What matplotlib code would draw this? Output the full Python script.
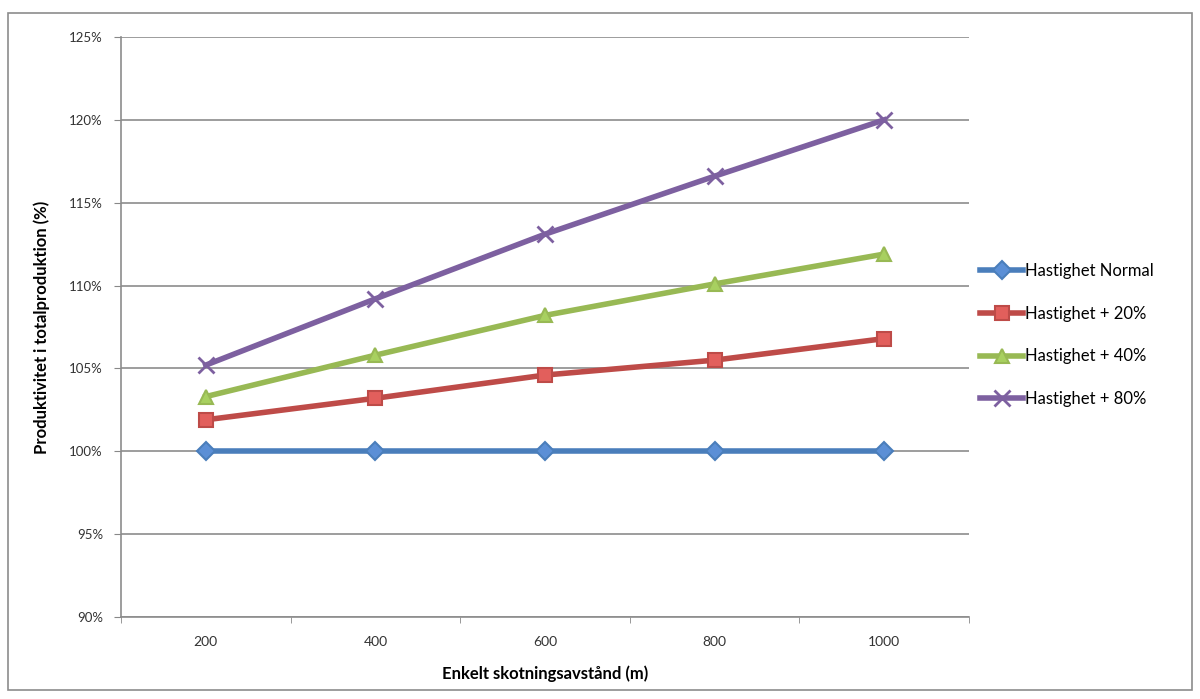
import matplotlib.pyplot as plt
from matplotlib.patches import Rectangle
from matplotlib.ticker import FuncFormatter

plt.rcParams['font.family'] = ['Lato', 'DejaVu Sans']

distances = ['200', '400', '600', '800', '1000']
normal = [100.0, 100.0, 100.0, 100.0, 100.0]
plus20 = [101.9, 103.2, 104.6, 105.5, 106.8]
plus40 = [103.3, 105.8, 108.2, 110.1, 111.9]
plus80 = [105.2, 109.2, 113.1, 116.6, 120.0]

series = [
    ('Hastighet Normal', normal, '#4a7ebb', 'D', '#5b8fd6', 9),
    ('Hastighet + 20%', plus20, '#be4b48', 's', '#e25f5c', 10),
    ('Hastighet + 40%', plus40, '#98b954', '^', '#a8d060', 10),
    ('Hastighet + 80%', plus80, '#7d60a0', 'x', '#6a5090', 11),
]

fig = plt.figure(figsize=(12, 6.99), dpi=100)
ax = fig.add_axes([121 / 1200, 1 - 617 / 699, (969 - 121) / 1200, (617 - 37) / 699])

x = list(range(len(distances)))
for label, vals, col, mk, fc, ms in series:
    ax.plot(x, vals, color=col, lw=4, marker=mk, markersize=ms,
            markerfacecolor=fc, markeredgecolor=col, markeredgewidth=1.5 if mk != 'x' else 2,
            label=label, zorder=3)

ax.set_xlim(-0.5, 4.5)
ax.set_ylim(90, 125)
ax.set_yticks([90, 95, 100, 105, 110, 115, 120, 125])
ax.yaxis.set_major_formatter(FuncFormatter(lambda v, p: f'{v:.0f}%'))
ax.set_xticks(x)
ax.set_xticklabels(distances)
ax.set_xticks([-0.5, 0.5, 1.5, 2.5, 3.5, 4.5], minor=True)
ax.tick_params(axis='x', which='major', length=0, pad=14, labelsize=10)
ax.tick_params(axis='x', which='minor', length=4, color='#888888')
ax.tick_params(axis='y', length=5, color='#888888', labelsize=9.5, pad=8, direction='out')
for lbl in ax.get_yticklabels() + ax.get_xticklabels():
    lbl.set_color('#333333')

ax.grid(axis='y', color='#8c8c8c', lw=1.2)
ax.set_axisbelow(True)
for side in ['top', 'right']:
    ax.spines[side].set_visible(False)
for side in ['left', 'bottom']:
    ax.spines[side].set_color('#8c8c8c')
    ax.spines[side].set_linewidth(1.2)

ax.set_xlabel('Enkelt skotningsavstånd (m)', fontsize=12, fontweight='bold', labelpad=12)
ax.set_ylabel('Produktivitet i totalproduktion (%)', fontsize=12, fontweight='bold', labelpad=14)

fig.legend(loc='center left', bbox_to_anchor=(965 / 1200, 1 - 335 / 699), frameon=False,
           fontsize=12, handlelength=2.6, handletextpad=0.1, labelspacing=1.6)

fig.patches.append(Rectangle((8 / 1200, 1 - 690 / 699), 1184 / 1200, 677 / 699,
                             transform=fig.transFigure, fill=False, edgecolor='#8c8c8c', lw=1.2))

fig.savefig('out.png', dpi=100)
